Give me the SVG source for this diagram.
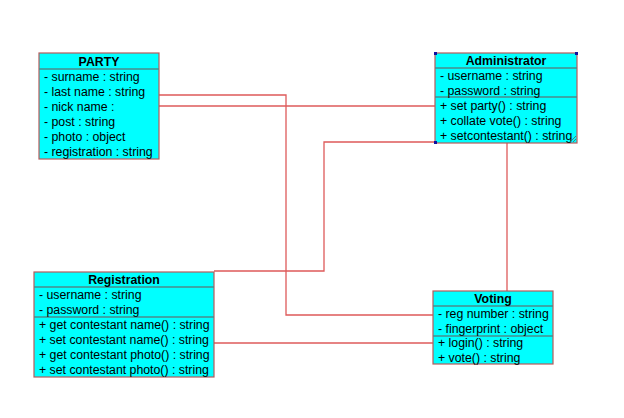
<svg xmlns="http://www.w3.org/2000/svg" width="624" height="418" viewBox="0 0 624 418">
<style>
.box{fill:#00FFFF;stroke:#B85A5A;stroke-width:1.2}
.sep{stroke:#4A8C8C;stroke-width:1.5}
.t{font-family:"Liberation Sans",Arial,sans-serif;font-size:12.3px;fill:#000}
.h{font-family:"Liberation Sans",Arial,sans-serif;font-size:12.3px;font-weight:bold;fill:#000;text-anchor:middle}
.c{fill:none;stroke:#DE5A5A;stroke-width:1.3}
.hd{fill:#1010A0}
</style>
<rect width="624" height="418" fill="#fff"/>
<g id="connectors">
<polyline class="c" points="159,95 286,95 286,315 433,315"/>
<polyline class="c" points="159,106 435,106"/>
<polyline class="c" points="214,271 324,271 324,142 435,142"/>
<polyline class="c" points="214,343 433,343"/>
<polyline class="c" points="507,143 507,291"/>
</g>
<g id="party">
<rect class="box" x="39" y="53" width="120" height="106"/>
<line class="sep" x1="39" y1="69" x2="159" y2="69"/>
<text class="h" x="99" y="65.5">PARTY</text>
<text class="t" x="44" y="81">- surname : string</text>
<text class="t" x="44" y="96">- last name : string</text>
<text class="t" x="44" y="111">- nick name :</text>
<text class="t" x="44" y="126">- post : string</text>
<text class="t" x="44" y="141">- photo : object</text>
<text class="t" x="44" y="156">- registration : string</text>
</g>
<g id="administrator">
<rect class="box" x="435" y="53" width="142" height="90"/>
<line class="sep" x1="435" y1="68" x2="577" y2="68"/>
<line class="sep" x1="435" y1="97" x2="577" y2="97"/>
<text class="h" x="506" y="65">Administrator</text>
<text class="t" x="440" y="80">- username : string</text>
<text class="t" x="440" y="95">- password : string</text>
<text class="t" x="440" y="110">+ set party() : string</text>
<text class="t" x="440" y="125">+ collate vote() : string</text>
<text class="t" x="440" y="140">+ setcontestant() : string</text>
<rect class="hd" x="434" y="52" width="3" height="3"/>
<rect class="hd" x="575" y="52" width="3" height="3"/>
<rect class="hd" x="434" y="141" width="3" height="3"/>
<g stroke="#506060" stroke-width="0.8">
<line x1="570" y1="142" x2="576" y2="136"/>
<line x1="573" y1="142" x2="576" y2="139"/>
</g>
</g>
<g id="registration">
<rect class="box" x="34" y="272" width="180" height="105"/>
<line class="sep" x1="34" y1="287" x2="214" y2="287"/>
<line class="sep" x1="34" y1="317" x2="214" y2="317"/>
<text class="h" x="124" y="284">Registration</text>
<text class="t" x="39" y="299">- username : string</text>
<text class="t" x="39" y="314">- password : string</text>
<text class="t" x="39" y="329">+ get contestant name() : string</text>
<text class="t" x="39" y="344">+ set contestant name() : string</text>
<text class="t" x="39" y="359">+ get contestant photo() : string</text>
<text class="t" x="39" y="374">+ set contestant photo() : string</text>
</g>
<g id="voting">
<rect class="box" x="433" y="291" width="120" height="73"/>
<line class="sep" x1="433" y1="306" x2="553" y2="306"/>
<line class="sep" x1="433" y1="336" x2="553" y2="336"/>
<text class="h" x="493" y="303">Voting</text>
<text class="t" x="438" y="317.5">- reg number : string</text>
<text class="t" x="438" y="332.5">- fingerprint : object</text>
<text class="t" x="438" y="347">+ login() : string</text>
<text class="t" x="438" y="361.5">+ vote() : string</text>
</g>
</svg>
